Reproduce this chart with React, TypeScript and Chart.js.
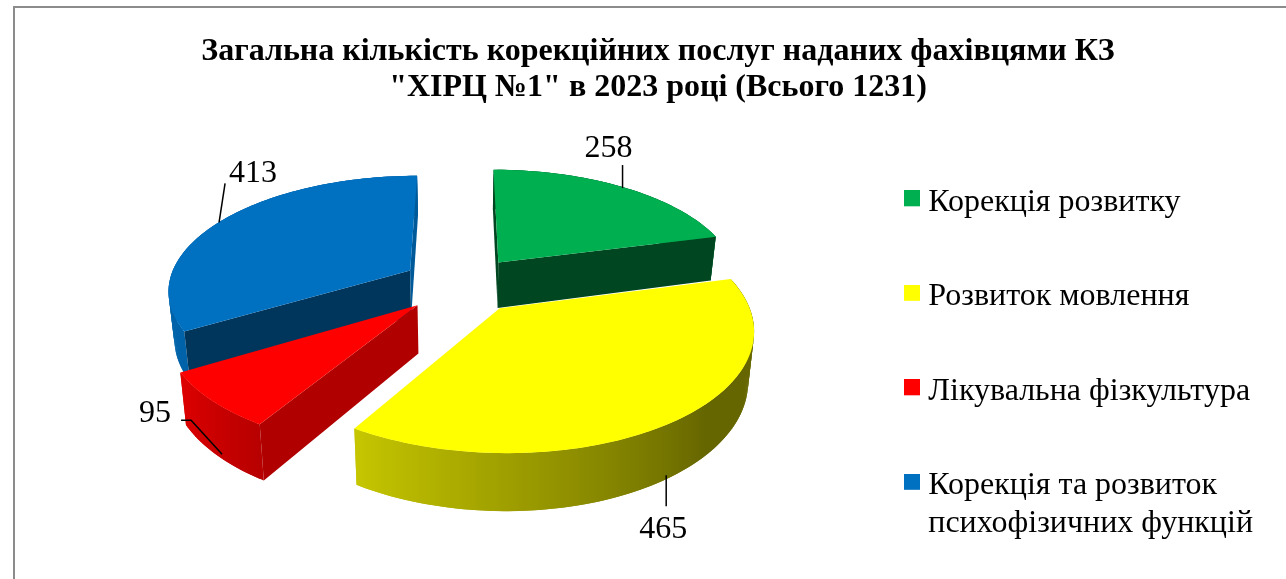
import React, { useEffect, useRef } from "react";
import { Chart, registerables } from "chart.js";

Chart.register(...registerables);

const titleLines = [
  "Загальна кількість корекційних послуг наданих фахівцями КЗ",
  '"ХІРЦ №1" в 2023 році (Всього 1231)',
];
const categories = [
  "Корекція розвитку",
  "Розвиток мовлення",
  "Лікувальна фізкультура",
  ["Корекція та розвиток", "психофізичних функцій"],
];
const values = [258, 465, 95, 413];
const colors = ["#00B050", "#FFFF00", "#FF0000", "#0070C0"];
// brightness of the [start, end] radial walls of each slice
const wallShade = [[0.4, 0.4], [0.4, 0.4], [0.69, 0.69], [0.48, 0.8]];
// rim lighting stops: [degrees clockwise from top, brightness]
const rimStops = [
  [[0, 0.6], [76, 0.6]],
  [[75, 0.4], [135, 0.4], [212, 0.78]],
  [[211, 0.72], [240, 0.88]],
  [[239, 0.88], [360, 0.88]],
];
// leader lines: offsets from the rim point of the slice's middle
const leaderBends = [
  [[0, 1], [0, -22]],
  [[-6, -1], [-6, 30]],
  [[5, -1], [-26, -35], [-36, -35]],
  [[-3, 2], [3, -37]],
];
const labelOffsets = [[-14, -38], [-9, 53], [-62, -42], [31, -47]];

const TILT = 0.47;
const PERSP = 0.00065;
const DEPTH = 47;
const CONTRACT = 0.00043;
const LIFT = -138;
const SHIFT_X = 11;

function shade(hex: string, f: number) {
  const n = parseInt(hex.slice(1), 16);
  const c = [(n >> 16) & 255, (n >> 8) & 255, n & 255].map((v) => Math.round(v * f));
  return `rgb(${c[0]},${c[1]},${c[2]})`;
}

function stopValue(stops: number[][], deg: number) {
  if (deg <= stops[0][0]) return stops[0][1];
  for (let i = 1; i < stops.length; i++) {
    if (deg <= stops[i][0]) {
      const t = (deg - stops[i - 1][0]) / (stops[i][0] - stops[i - 1][0]);
      return stops[i - 1][1] + t * (stops[i][1] - stops[i - 1][1]);
    }
  }
  return stops[stops.length - 1][1];
}

function makeProjector(el: any) {
  const r = el.outerRadius;
  const off = el.options.offset || 0;
  const mid = (el.startAngle + el.endAngle) / 2;
  const ox = Math.cos(mid) * off;
  const oy = Math.sin(mid) * off;
  return (radius: number, a: number, z: number) => {
    const wx = ox + radius * r * Math.cos(a);
    const wy = oy + radius * r * Math.sin(a);
    const k = 1 / (1 - PERSP * wy);
    return [el.x + SHIFT_X + wx * k * (1 - z * CONTRACT), el.y + LIFT + wy * TILT * k + z * k];
  };
}

function poly(ctx: CanvasRenderingContext2D, pts: number[][], fill: any) {
  ctx.beginPath();
  pts.forEach((p, i) => (i ? ctx.lineTo(p[0], p[1]) : ctx.moveTo(p[0], p[1])));
  ctx.closePath();
  ctx.fillStyle = fill;
  ctx.fill();
}

const pie3d = {
  id: "pie3d",
  beforeDatasetDraw(chart: any, args: any) {
    const ctx: CanvasRenderingContext2D = chart.ctx;
    const arcs = args.meta.data;
    const step = Math.PI / 180;
    [3, 0, 2, 1].forEach((i) => {
      const el = arcs[i];
      const P = makeProjector(el);
      const base = colors[i];
      const a0 = el.startAngle;
      const a1 = el.endAngle;
      const n = Math.max(2, Math.ceil((a1 - a0) / step));
      const angle = (j: number) => a0 + ((a1 - a0) * Math.min(j, n)) / n;
      // outer rim: overlapping strips sharing a horizontal gradient that follows the lighting
      const samples: number[][] = [];
      for (let j = 0; j <= n; j++) {
        const a = angle(j);
        samples.push([P(1, a, 0)[0], stopValue(rimStops[i], ((a + Math.PI / 2) * 180) / Math.PI)]);
      }
      const xs = samples.map((s) => s[0]);
      const xMin = Math.min(...xs);
      const xMax = Math.max(...xs);
      const grad = ctx.createLinearGradient(xMin, 0, xMax, 0);
      samples.forEach((s) => grad.addColorStop((s[0] - xMin) / (xMax - xMin), shade(base, s[1])));
      for (let j = 0; j < n; j++) {
        const s = angle(j);
        const e = angle(j + 2);
        poly(ctx, [P(1, s, 0), P(1, e, 0), P(1, e, DEPTH), P(1, s, DEPTH)], grad);
      }
      // radial walls that face the viewer
      [a0, a1].forEach((a, w) => {
        const dx = P(1, a, 0)[0] - P(0, a, 0)[0];
        if ((w === 0 && dx < 0) || (w === 1 && dx > 0)) {
          poly(ctx, [P(0, a, 0), P(1, a, 0), P(1, a, DEPTH), P(0, a, DEPTH)], shade(base, wallShade[i][w]));
        }
      });
      // top face
      const top = [P(0, a0, 0)];
      for (let j = 0; j <= n; j++) top.push(P(1, angle(j), 0));
      poly(ctx, top, base);
    });
    return false;
  },
  afterDatasetsDraw(chart: any) {
    const ctx: CanvasRenderingContext2D = chart.ctx;
    chart.getDatasetMeta(0).data.forEach((el: any, i: number) => {
      const P = makeProjector(el);
      const mid = (el.startAngle + el.endAngle) / 2;
      const front = Math.sin(mid) > 0;
      const rim = P(1, mid, front ? DEPTH : 0);
      ctx.beginPath();
      leaderBends[i].forEach((b, j) => {
        const x = rim[0] + b[0];
        const y = rim[1] + b[1];
        if (j) ctx.lineTo(x, y);
        else ctx.moveTo(x, y);
      });
      ctx.strokeStyle = "#000";
      ctx.lineWidth = 1.5;
      ctx.stroke();
      ctx.fillStyle = "#000";
      ctx.font = '32px "Liberation Serif"';
      ctx.textAlign = "center";
      ctx.textBaseline = "middle";
      ctx.fillText(String(values[i]), rim[0] + labelOffsets[i][0], rim[1] + labelOffsets[i][1]);
    });
  },
};

function swatch(color: string) {
  // the square sits in the top of a taller image, so it rides slightly above the text's middle
  const c = document.createElement("canvas");
  c.width = 16;
  c.height = 24;
  const g = c.getContext("2d")!;
  g.fillStyle = color;
  g.fillRect(0, 0, 16, 16);
  return c;
}

export default function App() {
  const ref = useRef<HTMLCanvasElement>(null);
  useEffect(() => {
    const chart = new Chart(ref.current!, {
      type: "pie",
      data: {
        labels: categories as any,
        datasets: [
          {
            data: values,
            backgroundColor: colors,
            borderWidth: 0,
            offset: 61,
            radius: 242,
          } as any,
        ],
      },
      plugins: [pie3d as any],
      options: {
        responsive: false,
        animation: false,
        events: [],
        layout: { padding: { left: 38, right: 38, top: 0, bottom: 0 } },
        plugins: {
          tooltip: { enabled: false },
          title: {
            display: true,
            text: titleLines,
            color: "#000",
            font: { family: '"Liberation Serif"', size: 32, weight: "bold", lineHeight: 1.125 },
            padding: { top: 26, bottom: 16 },
          },
          legend: {
            position: "right",
            labels: {
              color: "#000",
              font: { family: '"Liberation Serif"', size: 32, lineHeight: 1.17 },
              boxWidth: 0.5,
              boxHeight: 16,
              padding: 62.5,
              usePointStyle: true,
              generateLabels: () =>
                categories.map((c, i) => ({
                  text: c as any,
                  fillStyle: colors[i],
                  strokeStyle: colors[i],
                  lineWidth: 0,
                  pointStyle: swatch(colors[i]),
                  datasetIndex: 0,
                  index: i,
                  fontColor: "#000",
                })),
            },
          },
        },
      },
    } as any);
    return () => chart.destroy();
  }, []);
  return (
    <div style={{ position: "fixed", left: 0, top: 0, width: 1286, height: 579, overflow: "hidden", background: "#fff" }}>
      <div
        style={{
          position: "absolute",
          left: 13,
          top: 6,
          width: 1400,
          height: 800,
          border: "2px solid #8c8c8c",
          boxSizing: "border-box",
        }}
      />
      <canvas ref={ref} width={1286} height={715} style={{ position: "absolute", left: 15, top: 8, display: "block" }} />
    </div>
  );
}
